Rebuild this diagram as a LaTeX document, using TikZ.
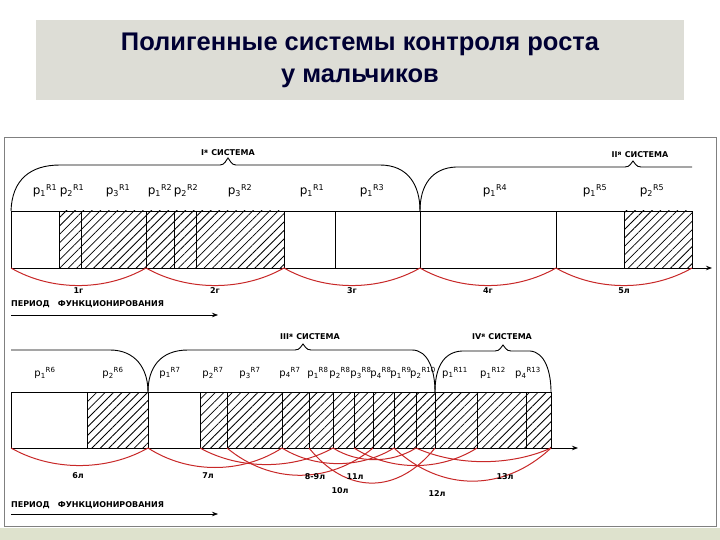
\documentclass[tikz,border=0pt]{standalone}
\usepackage{fontspec}
\setmainfont{DejaVu Sans}
\newfontfamily\titlefont{Liberation Sans}
\usetikzlibrary{patterns.meta,arrows.meta}
\definecolor{arcred}{RGB}{200,40,40}
\definecolor{titlebg}{RGB}{221,221,214}
\definecolor{bandc}{RGB}{222,226,205}
\tikzset{
 lab/.style={font=\fontsize{12}{12}\selectfont, inner sep=0pt},
 small/.style={font=\fontsize{8}{8}\selectfont\bfseries, inner sep=0pt},
 cell/.style={draw=black, line width=0.9pt},
 hcell/.style={cell, pattern={Lines[angle=45,distance=6pt,line width=0.8pt]}},
 rarc/.style={draw=arcred, line width=1pt},
 axis/.style={line width=0.9pt, -{Stealth[length=6pt]}},
 brace/.style={line width=0.9pt}
}
\newcommand{\pl}[2]{p\textsubscript{#1}\textsuperscript{R#2}}
\begin{document}
\begin{tikzpicture}[x=1pt,y=-1pt]
\useasboundingbox (0,0) rectangle (720,540);
\fill[white] (0,0) rectangle (720,540);
\fill[bandc] (0,528) rectangle (720,540);
\fill[titlebg] (36,20) rectangle (684,100);
\node[font=\titlefont\fontsize{25.5}{32}\selectfont\bfseries, text=black!80!blue, align=center] (title) at (360,60) {Полигенные системы контроля роста\\у мальчиков};
\draw[gray, line width=0.6pt] (4,137) rectangle (716,526);

% ---------- top row ----------
\foreach \a/\b in {11/59,284/335,335/420,420/556,556/624}
  \draw[cell] (\a,211) rectangle (\b,268);
\foreach \a/\b in {59/81,81/146,146/174,174/196,196/284,624/692}
  \draw[hcell] (\a,211) rectangle (\b,268);
\coordinate (ta) at (11,268); \coordinate (tb) at (712,268);
\draw[axis] (ta) -- (tb);
\foreach \a/\b/\d/\t/\n in {11/146/18/1г/t1,146/284/18/2г/t2,284/420/18/3г/t3,420/556/18/4г/t4,556/692/18/5л/t5}{
  \coordinate (\n a) at (\a,268); \coordinate (\n b) at (\b,268);
  \draw[rarc] (\n a) .. controls (\a+0.3*\b-0.3*\a,268+\d*1.3) and (\b-0.3*\b+0.3*\a,268+\d*1.3) .. (\n b);
  \node[small] (\n l) at ({(\a+\b)/2-0},291) {\t};
}
% braces top
\draw[brace] (11,211) .. controls (12,180) and (30,165) .. (60,165) -- (220,165) .. controls (225,165) and (226,160) .. (228,158) .. controls (230,160) and (231,165) .. (236,165) -- (380,165) .. controls (408,165) and (420,185) .. (420,211);
\draw[brace] (420,211) .. controls (420,185) and (432,168) .. (456,167) -- (625,167) .. controls (630,167) and (631,163) .. (633,161) .. controls (635,163) and (636,167) .. (641,167) -- (692,167);
\node[small] (s1) at (228,153) {I\textsuperscript{я} СИСТЕМА};
\node[small] (s2) at (640,155) {II\textsuperscript{я} СИСТЕМА};
\foreach \x/\i/\r/\n in {45/1/1/a1,72/2/1/a2,118/3/1/a3,160/1/2/a4,186/2/2/a5,240/3/2/a6,312/1/1/a7,372/1/3/a8,495/1/4/a9,595/1/5/a10,652/2/5/a11}
  \node[lab] (\n) at (\x,191) {\pl{\i}{\r}};
\node[small, anchor=west] (per1) at (11,304) {ПЕРИОД\quad ФУНКЦИОНИРОВАНИЯ};
\coordinate (pa1) at (11,315); \coordinate (pb1) at (218,315);
\draw[axis, line width=0.7pt] (pa1) -- (pb1);

% ---------- bottom row ----------
\foreach \a/\b in {11/87,148/200}
  \draw[cell] (\a,392) rectangle (\b,448);
\foreach \a/\b in {87/148,200/227,227/282,282/309,309/333,333/354,354/373,373/394,394/416,416/435,435/477,477/526,526/551}
  \draw[hcell] (\a,392) rectangle (\b,448);
\coordinate (ba) at (11,448); \coordinate (bb) at (578,448);
\draw[axis] (ba) -- (bb);
\foreach \a/\b/\d/\n in {11/148/18/u1,148/282/20/u2,200/333/17/u3,227/373/28/u4,282/394/16/u5,309/435/36/u6,354/477/18/u7,394/551/34/u8,416/551/14/u9,333/416/12/u10}{
  \coordinate (\n a) at (\a,448); \coordinate (\n b) at (\b,448);
  \draw[rarc] (\n a) .. controls (\a+0.3*\b-0.3*\a,448+\d*1.3) and (\b-0.3*\b+0.3*\a,448+\d*1.3) .. (\n b);
}
\foreach \x/\y/\t/\n in {78/476/6л/w1,208/476/7л/w2,315/477/8-9л/w3,340/491/10л/w4,355/477/11л/w5,437/494/12л/w6,505/477/13л/w7}
  \node[small] (\n) at (\x,\y) {\t};
\draw[brace] (11,350) -- (110,350) .. controls (135,350) and (148,368) .. (148,392);
\draw[brace] (148,392) .. controls (148,368) and (160,350) .. (188,350) -- (295,350) .. controls (300,350) and (301,346) .. (303,344) .. controls (305,346) and (306,350) .. (311,350) -- (412,350) .. controls (428,350) and (435,370) .. (435,392);
\draw[brace] (435,392) .. controls (435,370) and (442,352) .. (462,351) -- (495,351) .. controls (500,351) and (501,347) .. (503,345) .. controls (505,347) and (506,351) .. (511,351) -- (530,351) .. controls (545,352) and (551,372) .. (551,392);
\node[small] (s3) at (310,337) {III\textsuperscript{я} СИСТЕМА};
\node[small] (s4) at (502,337) {IV\textsuperscript{я} СИСТЕМА};
\foreach \x/\i/\r/\n in {45/1/6/b1,113/2/6/b2,170/1/7/b3,213/2/7/b4,250/3/7/b5,290/4/7/b6,318/1/8/b7,340/2/8/b8,361/3/8/b9,381/4/8/b10,401/1/9/b11,423/2/10/b12,455/1/11/b13,493/1/12/b14,528/4/13/b15}
  \node[lab, font=\fontsize{10}{10}\selectfont] (\n) at (\x,373) {\pl{\i}{\r}};
\node[small, anchor=west] (per2) at (11,505) {ПЕРИОД\quad ФУНКЦИОНИРОВАНИЯ};
\coordinate (pa2) at (11,514); \coordinate (pb2) at (218,514);
\draw[axis, line width=0.7pt] (pa2) -- (pb2);
\end{tikzpicture}
\end{document}
